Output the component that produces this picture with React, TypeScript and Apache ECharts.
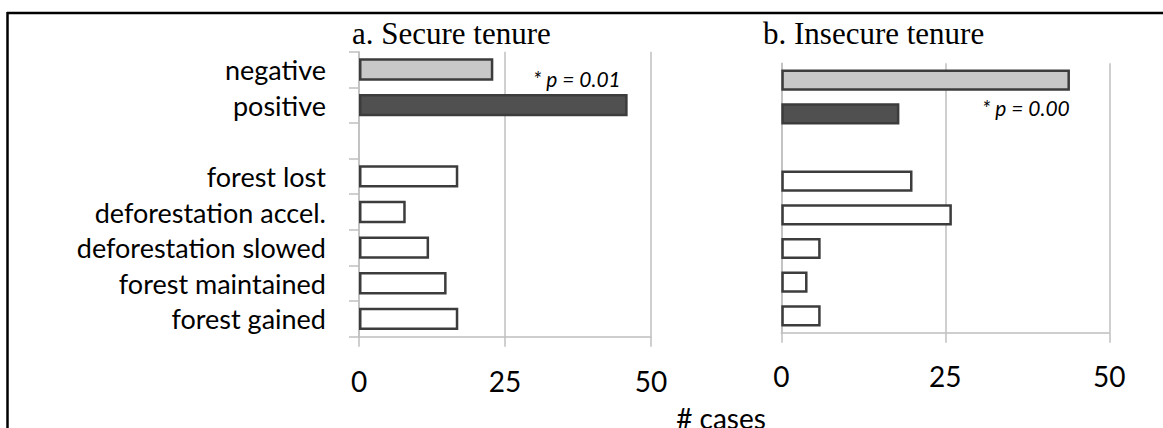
import React, { useEffect, useRef } from "react";
import * as echarts from "echarts";

const categories = [
  "negative",
  "positive",
  "",
  "forest lost",
  "deforestation accel.",
  "deforestation slowed",
  "forest maintained",
  "forest gained",
];
const secureValues = [23, 46, null, 17, 8, 12, 15, 17];
const insecureValues = [44, 18, null, 20, 26, 6, 4, 6];
const titleA = "a. Secure tenure";
const titleB = "b. Insecure tenure";
const noteA = "* p = 0.01";
const noteB = "* p = 0.00";
const xAxisName = "# cases";
const axisMin = 0;
const axisMax = 50;
const axisStep = 25;

const fills = ["#c8c8c8", "#505050", "#ffffff", "#ffffff", "#ffffff", "#ffffff", "#ffffff", "#ffffff"];
const GRID = "#bfbfbf";
const SANS = "Lato";

function makeX(gridIndex: number, margin: number) {
  return {
    gridIndex,
    type: "value",
    min: axisMin,
    max: axisMax,
    interval: axisStep,
    axisLine: { show: true, lineStyle: { color: GRID, width: 1.5 } },
    axisTick: { show: true, length: 10, lineStyle: { color: GRID, width: 1.5 } },
    splitLine: { show: true, lineStyle: { color: GRID, width: 1.5 } },
    axisLabel: { fontSize: 28, color: "#000", fontFamily: SANS, margin },
  };
}

export default function App() {
  const ref = useRef<HTMLDivElement>(null);
  useEffect(() => {
    if (!ref.current) return;
    const chart = echarts.init(ref.current, undefined, { renderer: "svg" });
    const mk = (vals: (number | null)[]) =>
      vals.map((v, i) => ({ value: v, itemStyle: { color: fills[i] } }));
    chart.setOption({
      animation: false,
      backgroundColor: "#ffffff",
      grid: [
        { left: 359, top: 51.7, width: 292, height: 285 },
        { left: 781.3, top: 63.3, width: 328, height: 269.4 },
      ],
      xAxis: [makeX(0, 30), makeX(1, 29)],
      yAxis: [
        {
          gridIndex: 0,
          type: "category",
          data: categories,
          inverse: true,
          axisLine: { show: true, lineStyle: { color: GRID, width: 1.5 } },
          axisTick: { show: true, length: 10, interval: 0, lineStyle: { color: GRID, width: 1.5 } },
          axisLabel: { interval: 0, fontSize: 27, fontFamily: SANS, color: "#000", margin: 33 },
          splitLine: { show: false },
        },
        {
          gridIndex: 1,
          type: "category",
          data: categories,
          inverse: true,
          axisLine: { show: true, lineStyle: { color: GRID, width: 1.5 } },
          axisTick: { show: false },
          axisLabel: { show: false },
          splitLine: { show: false },
        },
      ],
      series: [
        {
          type: "bar",
          xAxisIndex: 0,
          yAxisIndex: 0,
          barWidth: "63%",
          data: mk(secureValues),
          itemStyle: { borderColor: "#3c3c3c", borderWidth: 2.5 },
        },
        {
          type: "bar",
          xAxisIndex: 1,
          yAxisIndex: 1,
          barWidth: "63%",
          data: mk(insecureValues),
          itemStyle: { borderColor: "#3c3c3c", borderWidth: 2.5 },
        },
      ],
      graphic: [
        { type: "line", shape: { x1: 7, y1: 13, x2: 1163, y2: 13 }, style: { stroke: "#000", lineWidth: 2.5 } },
        { type: "line", shape: { x1: 7.5, y1: 12, x2: 7.5, y2: 428 }, style: { stroke: "#000", lineWidth: 2.5 } },
        {
          type: "text",
          x: 352,
          y: 33.5,
          style: { text: titleA, font: "31px 'Liberation Serif'", fill: "#000", verticalAlign: "middle", align: "left" },
        },
        {
          type: "text",
          x: 763,
          y: 33.5,
          style: { text: titleB, font: "31px 'Liberation Serif'", fill: "#000", verticalAlign: "middle", align: "left" },
        },
        {
          type: "text",
          x: 533,
          y: 78.6,
          style: { text: noteA, font: "italic 21px Lato", fill: "#000", verticalAlign: "middle", align: "left" },
        },
        {
          type: "text",
          x: 982,
          y: 107,
          style: { text: noteB, font: "italic 21px Lato", fill: "#000", verticalAlign: "middle", align: "left" },
        },
        {
          type: "text",
          x: 721,
          y: 418,
          style: { text: xAxisName, font: "28px Lato", fill: "#000", verticalAlign: "middle", align: "center" },
        },
      ],
    });
    return () => chart.dispose();
  }, []);
  return (
    <div
      ref={ref}
      style={{ position: "fixed", left: 0, top: 0, width: 1163, height: 428 }}
    />
  );
}
